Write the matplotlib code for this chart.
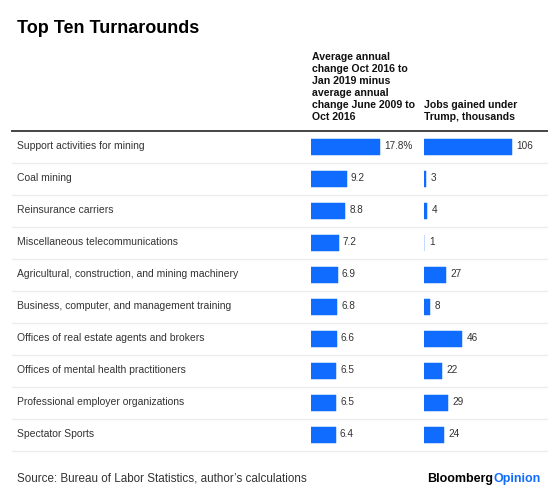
import matplotlib
matplotlib.use("Agg")
import matplotlib.pyplot as plt
from matplotlib.lines import Line2D
from matplotlib.transforms import blended_transform_factory

plt.rcParams['font.family'] = ['Liberation Sans', 'DejaVu Sans']

categories = [
    "Support activities for mining",
    "Coal mining",
    "Reinsurance carriers",
    "Miscellaneous telecommunications",
    "Agricultural, construction, and mining machinery",
    "Business, computer, and management training",
    "Offices of real estate agents and brokers",
    "Offices of mental health practitioners",
    "Professional employer organizations",
    "Spectator Sports",
]
pct_change = [17.8, 9.2, 8.8, 7.2, 6.9, 6.8, 6.6, 6.5, 6.5, 6.4]
jobs_gained = [106, 3, 4, 1, 27, 8, 46, 22, 29, 24]

title = "Top Ten Turnarounds"
header1 = ["Average annual", "change Oct 2016 to", "Jan 2019 minus",
           "average annual", "change June 2009 to", "Oct 2016"]
header2 = ["Jobs gained under", "Trump, thousands"]
source = "Source: Bureau of Labor Statistics, author\u2019s calculations"

W, H = 560, 502
BLUE = "#0f6cff"
TXT = "#333333"

fig = plt.figure(figsize=(W / 100, H / 100), dpi=100)
fig.patch.set_facecolor("white")

def fx(px):
    return px / W

def fy(py):
    return 1 - py / H

top_px, bot_px = 131.5, 451.5
ax1 = fig.add_axes([fx(311), fy(bot_px), 97 / W, (bot_px - top_px) / H])
ax2 = fig.add_axes([fx(423.5), fy(bot_px), 108.4 / W, (bot_px - top_px) / H])

n = len(categories)
ypos = list(range(n))
for ax, vals, xmax in ((ax1, pct_change, 25), (ax2, jobs_gained, 130)):
    ax.barh(ypos, vals, height=0.5, color=BLUE, edgecolor=BLUE, linewidth=0.35)
    ax.set_xlim(0, xmax)
    ax.set_ylim(n - 0.5, -0.5)
    ax.axis("off")

for i, v in enumerate(pct_change):
    lab = f"{v:.1f}%" if i == 0 else f"{v:.1f}"
    ax1.annotate(lab, xy=(v, i), xytext=(4, -1.5), textcoords="offset pixels",
                 ha="left", va="baseline", fontsize=7.2, color=TXT)
for i, v in enumerate(jobs_gained):
    ax2.annotate(f"{v}", xy=(v, i), xytext=(4.5, -1.5), textcoords="offset pixels",
                 ha="left", va="baseline", fontsize=7.2, color=TXT)

tr = blended_transform_factory(fig.transFigure, ax1.transData)
for i, c in enumerate(categories):
    ax1.annotate(c, xy=(fx(17), i), xycoords=tr, xytext=(0, -1.5),
                 textcoords="offset pixels", ha="left", va="baseline",
                 fontsize=7.5, color=TXT, annotation_clip=False)

# separators
for k in range(n + 1):
    yb = k - 0.5
    if k == 0:
        ln = Line2D([fx(12), fx(547)], [yb, yb], transform=tr, color="#444444",
                    linewidth=1.4, clip_on=False)
    else:
        ln = Line2D([fx(12), fx(547)], [yb, yb], transform=tr, color="#ebebeb",
                    linewidth=0.8, clip_on=False)
    ax1.add_line(ln)

fig.text(fx(17), fy(33), title, fontsize=13, fontweight="bold", color="black",
         ha="left", va="baseline")

for j, line in enumerate(header1):
    fig.text(fx(311.5), fy(60 + 12 * j), line, fontsize=7.6, fontweight="bold",
             color="#111111", ha="left", va="baseline")
for j, line in enumerate(header2):
    fig.text(fx(423.5), fy(108 + 12 * j), line, fontsize=7.6, fontweight="bold",
             color="#111111", ha="left", va="baseline")

fig.text(fx(17), fy(481.5), source, fontsize=8.4, color=TXT, ha="left", va="baseline")

t1 = fig.text(fx(427), fy(482), "Bloomberg", fontsize=9, fontweight="bold",
              color="black", ha="left", va="baseline")
r = fig.canvas.get_renderer()
bb = t1.get_window_extent(renderer=r)
fig.text(bb.x1 / W, fy(482), "Opinion", fontsize=9, fontweight="bold",
         color=BLUE, ha="left", va="baseline")

fig.savefig("out.png", dpi=100, facecolor="white")
